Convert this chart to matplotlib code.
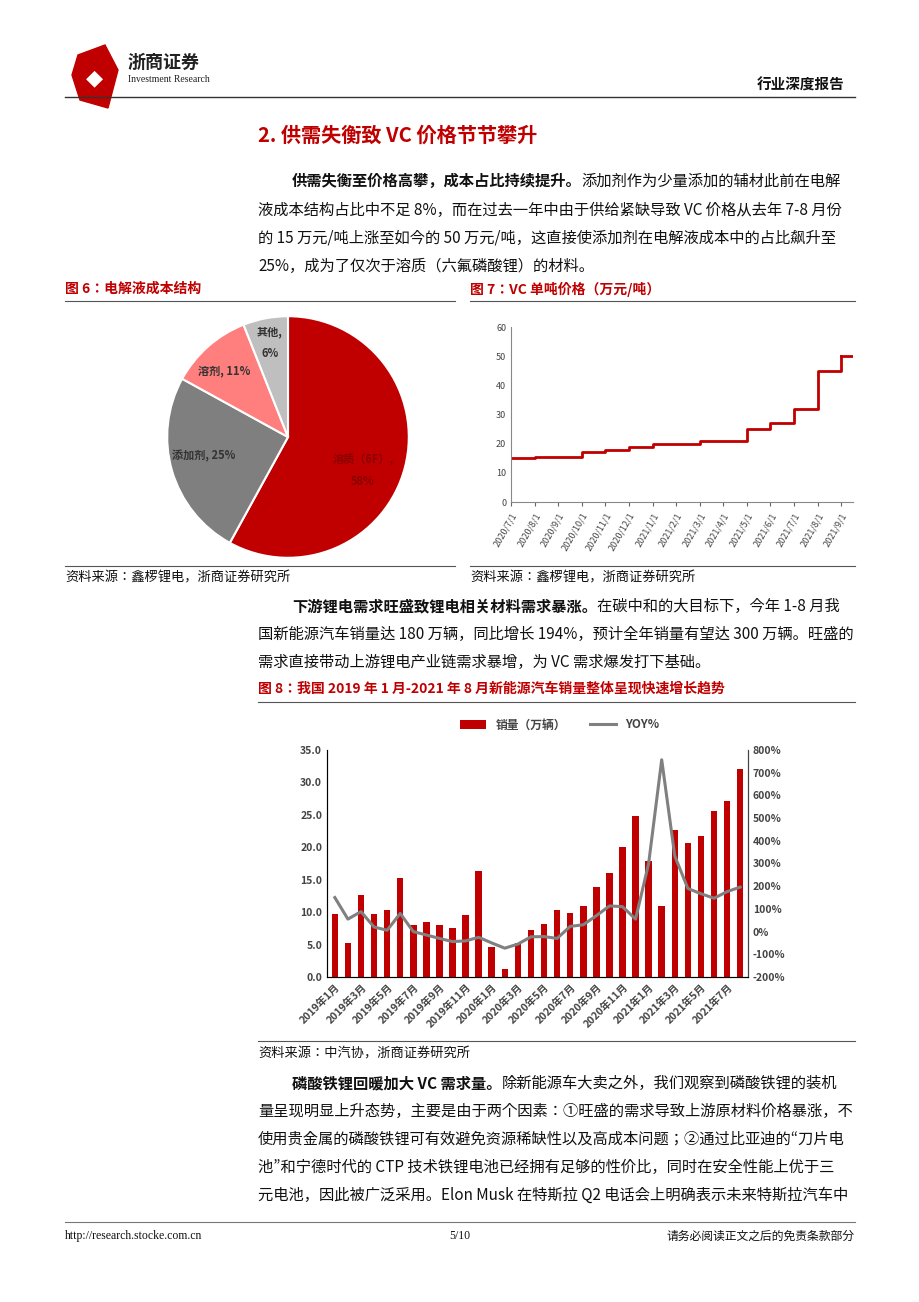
import matplotlib
matplotlib.use("Agg")
import matplotlib.pyplot as plt
import numpy as np
from matplotlib.patches import Polygon
from matplotlib import font_manager

names = {f.name for f in font_manager.fontManager.ttflist}
cjk = [n for n in ['Noto Sans CJK SC', 'Noto Sans CJK JP', 'Noto Sans CJK TC', 'Noto Sans CJK KR'] if n in names]
plt.rcParams['font.family'] = cjk + ['DejaVu Sans']
plt.rcParams['axes.unicode_minus'] = False

W, H = 920, 1302
RED = '#C00000'
BODY = 11

# ---------- data ----------
pie_labels = ['溶质（6F）', '添加剂', '溶剂', '其他']
pie_values = [58, 25, 11, 6]
pie_colors = ['#C00000', '#7F7F7F', '#FF7F7F', '#BFBFBF']

vc_dates = ['2020/7/1', '2020/8/1', '2020/9/1', '2020/10/1', '2020/11/1', '2020/12/1', '2021/1/1',
            '2021/2/1', '2021/3/1', '2021/4/1', '2021/5/1', '2021/6/1', '2021/7/1', '2021/8/1', '2021/9/1']
vc_price = [15, 15.5, 15.5, 17, 18, 19, 20, 20, 21, 21, 25, 27, 32, 45, 50]

months = [f'{y}年{m}月' for y in (2019, 2020, 2021) for m in range(1, 13)][:32]
sales = [9.7, 5.3, 12.6, 9.7, 10.4, 15.2, 8.0, 8.5, 8.0, 7.5, 9.5, 16.3,
         4.7, 1.3, 5.3, 7.2, 8.2, 10.4, 9.8, 11.0, 13.8, 16.0, 20.0, 24.8,
         17.9, 11.0, 22.6, 20.6, 21.7, 25.6, 27.1, 32.0]
yoy = [150, 55, 88, 20, 6, 80, 0, -15, -30, -44, -41, -25,
       -50, -73, -55, -23, -22, -30, 23, 30, 70, 113, 110, 55,
       300, 757, 333, 190, 167, 147, 176, 196]

fig = plt.figure(figsize=(9.2, 13.02), dpi=100)
renderer = fig.canvas.get_renderer()

def T(x, y, s, size=BODY, **kw):
    kw.setdefault('va', 'center')
    return fig.text(x / W, 1 - y / H, s, fontsize=size, **kw)

def T2(x, y, parts, size=BODY):
    for s, bold in parts:
        t = T(x, y, s, size=size, fontweight='bold' if bold else 'normal', color='#111111')
        bb = t.get_window_extent(renderer)
        x += bb.width

def HL(y, x0, x1, color='#555555', lw=0.8):
    fig.add_artist(plt.Line2D([x0 / W, x1 / W], [1 - y / H, 1 - y / H], color=color, lw=lw))

def AX(x0, y0, x1, y1):
    return fig.add_axes([x0 / W, 1 - y1 / H, (x1 - x0) / W, (y1 - y0) / H])

# ---------- header ----------
fig.add_artist(Polygon([[78/W, 1-55/H], [105/W, 1-45/H], [118/W, 1-70/H], [108/W, 1-108/H], [80/W, 1-100/H], [72/W, 1-75/H]],
                       closed=True, color=RED, transform=fig.transFigure))
T(95, 78, '◆', size=16, color='white', ha='center', family='DejaVu Sans')
T(128, 62, '浙商证券', size=13, fontweight='bold', color='#222222')
T(128, 80, 'Investment Research', size=7, color='#222222', family='Liberation Serif')
T(845, 85, '行业深度报告', size=10.5, fontweight='bold', ha='right', color='#111111')
HL(97, 65, 855, '#333333', 1.0)

T(258, 135, '2. 供需失衡致 VC 价格节节攀升', size=14.5, fontweight='bold', color=RED)

T2(292, 181, [('供需失衡至价格高攀，成本占比持续提升。', True), ('添加剂作为少量添加的辅材此前在电解', False)])
T(258, 210, '液成本结构占比中不足 8%，而在过去一年中由于供给紧缺导致 VC 价格从去年 7-8 月份', color='#111111')
T(258, 238, '的 15 万元/吨上涨至如今的 50 万元/吨，这直接使添加剂在电解液成本中的占比飙升至', color='#111111')
T(258, 266, '25%，成为了仅次于溶质（六氟磷酸锂）的材料。', color='#111111')

T(65, 289, '图 6：电解液成本结构', size=10, fontweight='bold', color=RED)
T(470, 289, '图 7：VC 单吨价格（万元/吨）', size=10, fontweight='bold', color=RED)
HL(301, 65, 455); HL(301, 470, 855)
HL(566, 65, 455); HL(566, 470, 855)
T(65, 578, '资料来源：鑫椤锂电，浙商证券研究所', size=9.5, color='#111111')
T(470, 578, '资料来源：鑫椤锂电，浙商证券研究所', size=9.5, color='#111111')

# ---------- pie ----------
ax1 = AX(166, 315, 410, 559)
wedges, _ = ax1.pie(pie_values, colors=pie_colors, startangle=90, counterclock=False, radius=1.0,
                    wedgeprops=dict(edgecolor='white', linewidth=1.5))
ax1.set_aspect('equal')
ax1.set_xlim(-1.01, 1.01); ax1.set_ylim(-1.01, 1.01)
lbl_pos = [(0.62, -0.28), (-0.70, -0.16), (-0.53, 0.55), (-0.15, 0.78)]
lbl_txt = ['溶质（6F）,\n58%', '添加剂, 25%', '溶剂, 11%', '其他,\n6%']
lbl_col = ['#8B0000', '#333333', '#333333', '#333333']
for (px, py), s, c in zip(lbl_pos, lbl_txt, lbl_col):
    ax1.text(px, py, s, ha='center', va='center', fontsize=8, color=c, linespacing=1.8, fontweight='bold')

# ---------- step chart ----------
ax2 = AX(511, 327, 853, 502)
xi = np.arange(len(vc_price))
ax2.step(xi, vc_price, where='post', color=RED, lw=2)
ax2.plot([xi[-1], xi[-1] + 0.5], [vc_price[-1], vc_price[-1]], color=RED, lw=2)
ax2.set_xlim(0, len(vc_price) - 0.5)
ax2.set_ylim(0, 60)
ax2.set_yticks(range(0, 61, 10))
ax2.set_xticks(xi)
ax2.set_xticklabels(vc_dates, rotation=60, ha='right', rotation_mode='anchor', fontsize=6.5, color='#444444')
ax2.tick_params(axis='y', labelsize=6.5, colors='#444444', length=0)
ax2.tick_params(axis='x', length=3, colors='#666666', labelcolor='#444444')
for s in ('top', 'right'):
    ax2.spines[s].set_visible(False)
for s in ('left', 'bottom'):
    ax2.spines[s].set_color('#888888')

# ---------- paragraph 2 ----------
T2(292, 606, [('下游锂电需求旺盛致锂电相关材料需求暴涨。', True), ('在碳中和的大目标下，今年 1-8 月我', False)])
T(258, 634, '国新能源汽车销量达 180 万辆，同比增长 194%，预计全年销量有望达 300 万辆。旺盛的', color='#111111')
T(258, 662, '需求直接带动上游锂电产业链需求暴增，为 VC 需求爆发打下基础。', color='#111111')

T(258, 689, '图 8：我国 2019 年 1 月-2021 年 8 月新能源汽车销量整体呈现快速增长趋势', size=10, fontweight='bold', color=RED)
HL(702, 258, 855)
HL(1041, 258, 855)
T(258, 1054, '资料来源：中汽协，浙商证券研究所', size=9.5, color='#111111')

# ---------- bar + line ----------
ax3 = AX(327, 750, 748, 977)
xm = np.arange(len(sales))
ax3.bar(xm, sales, width=0.5, color=RED, label='销量（万辆）')
ax3.set_ylim(0, 35)
ax3.set_yticks(np.arange(0, 35.1, 5))
ax3.set_yticklabels([f'{v:.1f}' for v in np.arange(0, 35.1, 5)], fontweight='bold')
ax3.set_xlim(-0.6, len(sales) - 0.4)
ax3.set_xticks(xm[::2])
ax3.set_xticklabels(months[::2], rotation=45, ha='right', rotation_mode='anchor', fontsize=7.5, color='#444444',
                    fontweight='bold')
ax3.tick_params(axis='y', labelsize=7.5, colors='#444444', length=0)
ax3.tick_params(axis='x', length=0)
ax3.spines['top'].set_visible(False)
for s in ('left', 'bottom', 'right'):
    ax3.spines[s].set_color('#444444')
ax4 = ax3.twinx()
ax4.plot(xm, yoy, color='#808080', lw=2.2, label='YOY%')
ax4.set_ylim(-200, 800)
ax4.set_yticks(range(-200, 801, 100))
ax4.set_yticklabels([f'{v}%' for v in range(-200, 801, 100)], fontweight='bold')
ax4.tick_params(axis='y', labelsize=7.5, colors='#444444', length=0)
ax4.spines['top'].set_visible(False)
ax4.spines['right'].set_color('#444444')
h1, l1 = ax3.get_legend_handles_labels()
h2, l2 = ax4.get_legend_handles_labels()
fig.legend(h1 + h2, l1 + l2, loc='center', bbox_to_anchor=(560 / W, 1 - 725 / H), ncol=2, frameon=False,
           prop={'size': 8.5, 'weight': 'bold'}, handlelength=2.2, columnspacing=2, labelcolor='#444444')

# ---------- paragraph 3 ----------
T2(292, 1083, [('磷酸铁锂回暖加大 VC 需求量。', True), ('除新能源车大卖之外，我们观察到磷酸铁锂的装机', False)])
T(258, 1111, '量呈现明显上升态势，主要是由于两个因素：①旺盛的需求导致上游原材料价格暴涨，不', color='#111111')
T(258, 1139, '使用贵金属的磷酸铁锂可有效避免资源稀缺性以及高成本问题；②通过比亚迪的“刀片电', color='#111111')
T(258, 1167, '池”和宁德时代的 CTP 技术铁锂电池已经拥有足够的性价比，同时在安全性能上优于三', color='#111111')
T(258, 1195, '元电池，因此被广泛采用。Elon Musk 在特斯拉 Q2 电话会上明确表示未来特斯拉汽车中', color='#111111')

# ---------- footer ----------
HL(1222, 65, 855, '#777777', 0.8)
T(65, 1236, 'http://research.stocke.com.cn', size=8.5, color='#111111', family='Liberation Serif')
T(460, 1236, '5/10', size=8.5, color='#111111', ha='center', family='Liberation Serif')
T(855, 1236, '请务必阅读正文之后的免责条款部分', size=8.5, color='#111111', ha='right')

fig.savefig('out.png', dpi=100)
